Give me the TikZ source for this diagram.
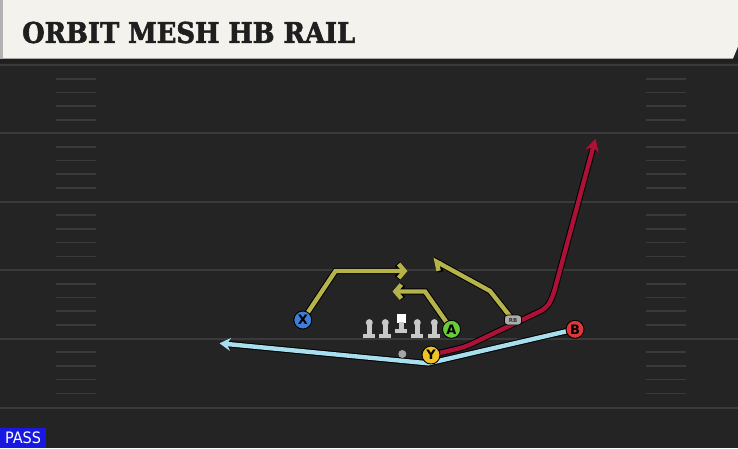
\documentclass[tikz,border=0pt]{standalone}
\usepackage{fontspec}
\usetikzlibrary{arrows.meta}
\newfontfamily\titlefont{DejaVu Serif Condensed}[FakeBold=2]
\newfontfamily\labelfont{DejaVu Sans}
\definecolor{fieldbg}{HTML}{242424}
\definecolor{fieldline}{HTML}{3A3A3A}
\definecolor{titlebg}{HTML}{F4F2EC}
\definecolor{passblue}{HTML}{1818E2}
\definecolor{routeolive}{HTML}{B5B34A}
\definecolor{routered}{HTML}{AC1238}
\definecolor{routeblue}{HTML}{A8DFEE}
\definecolor{pX}{HTML}{3E7ED8}
\definecolor{pA}{HTML}{6ACB3A}
\definecolor{pY}{HTML}{F0C226}
\definecolor{pB}{HTML}{DE3639}
\definecolor{linegray}{HTML}{C8C8C8}
\pgfdeclarelayer{fieldlayer}
\pgfdeclarelayer{routelayer}
\pgfsetlayers{fieldlayer,routelayer,main}
\begin{document}
\begin{tikzpicture}[x=1pt,y=-1pt,
  route/.style={line width=4.4pt, line join=miter, preaction={draw=black,line width=6.4pt}},
  player/.style={circle, draw=black, line width=0.9pt, minimum size=18pt, inner sep=0pt,
    font=\labelfont\bfseries\fontsize{13}{13}\selectfont},
  rbbox/.style={rounded corners=3pt, draw=black, line width=0.8pt, fill=gray!65,
    minimum width=17pt, minimum height=10pt, inner sep=0pt,
    font=\labelfont\bfseries\fontsize{5.5}{5.5}\selectfont, text=black!80},
  yardline/.style={fieldline, line width=2pt},
  hash/.style={fieldline, line width=1.6pt},
  lineman/.style={fill=linegray},
  barb/.style={-{Straight Barb[length=6pt,width=14pt]}}
]
\useasboundingbox (0,0) rectangle (738,448);
\begin{pgfonlayer}{fieldlayer}
\fill[fieldbg] (0,0) rectangle (738,448);
\fill[black!88] (0,58) rectangle (738,63);
\foreach \yy in {65,133,201.5,270,338.5,407.5}
  \draw[yardline] (0,\yy) -- (738,\yy);
\foreach \b in {65,133,201.5,270,338.5}
  \foreach \k in {1,2,3,4} {
    \draw[hash] (56,\b+13.7*\k) -- (96,\b+13.7*\k);
    \draw[hash] (646,\b+13.7*\k) -- (686,\b+13.7*\k);
  }
% title bar
\fill[titlebg] (0,0) -- (738,0) -- (738,46.5) -- (733,58.5) -- (0,58.5) -- cycle;
\fill[gray!60] (0,0) rectangle (3,58.5);
\end{pgfonlayer}

% title
\node[anchor=north west, inner sep=0pt, text=black!88] (title) at (22,21.5)
  {\resizebox{333pt}{21.2pt}{\titlefont\bfseries ORBIT MESH HB RAIL}};

% PASS tag
\node[fill=passblue, anchor=south west, inner sep=0pt, minimum width=45.7pt,
  minimum height=20.3pt, text=white] (pass) at (0,448)
  {\resizebox{36pt}{11.7pt}{\labelfont PASS}};

% offensive line
\foreach \xx in {369.3,385.3,417.3,434.3} {
  \fill[lineman] (\xx,322.6) circle (3.5pt);
  \fill[lineman] (\xx-2.2,322.5) rectangle (\xx+2.2,335);
  \fill[lineman] (\xx-5.9,334.3) rectangle (\xx+5.9,338.3);
}
\fill[white] (396.8,314.3) rectangle (405.8,322.7);
\fill[lineman] (399.1,322) rectangle (403.5,330);
\fill[lineman] (395.4,329) rectangle (407.2,333);
% QB
\fill[gray!70] (402.3,354) circle (4pt);

% players
\node[player, fill=pX] (X) at (302.8,320) {X};
\node[player, fill=pA] (A) at (451.5,329.3) {A};
\node[player, fill=pY] (Y) at (431,355) {Y};
\node[player, fill=pB] (B) at (575,329.3) {B};
\node[rbbox] (RB) at (513,320) {RB};

% route points
\coordinate (xc) at (335.5,271);
\coordinate (xe) at (407.5,271);
\coordinate (ac) at (425,291.5);
\coordinate (ae) at (392.5,291.5);
\coordinate (rc) at (490,291);
\coordinate (re) at (432.5,259.5);
\coordinate (r1) at (465,347);
\coordinate (r2) at (547,308);
\coordinate (r3) at (553,296);
\coordinate (re2) at (595.5,138.5);
\coordinate (bv) at (428.3,363.3);
\coordinate (be) at (219.5,343.3);

\begin{pgfonlayer}{routelayer}
\draw[route, routeolive, barb] (X.center) -- (xc) -- (xe);
\draw[route, routeolive, barb] (A.center) -- (ac) -- (ae);
\draw[route, routeolive, -{Straight Barb[length=6pt,width=14pt,left]}] (RB.center) -- (rc) -- (re);
\draw[route, routeblue, -{Stealth[length=11pt,width=13pt,inset=3.5pt]}] (B.center) -- (bv) -- (be);
\draw[route, routered, rounded corners=7pt, -{Stealth[length=13pt,width=14pt,inset=4pt]}]
  (Y.center) -- (r1) -- (r2) -- (r3) -- (re2);
\end{pgfonlayer}
\end{tikzpicture}
\end{document}
